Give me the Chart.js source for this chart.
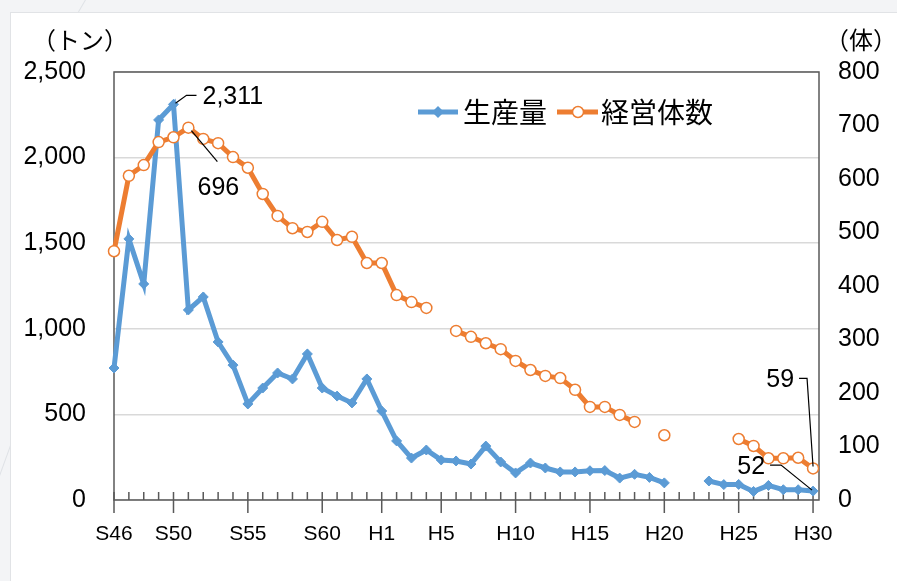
<!DOCTYPE html>
<html>
<head>
<meta charset="utf-8">
<script src="https://cdn.jsdelivr.net/npm/chart.js@4/dist/chart.umd.min.js"></script>
<style>
  html, body { margin: 0; padding: 0; }
  body { width: 897px; height: 581px; background: #f3f4f6; position: relative; overflow: hidden; }
  .panel { position: absolute; left: 10px; top: 12px; right: -2px; bottom: -2px; background: #fff; border: 1px solid #e1e3e6; }
  .streak { position: absolute; width: 1px; background: #dfe2e6; transform-origin: top left; }
  #wrap { position: absolute; left: 0; top: 0; width: 897px; height: 581px; }
</style>
</head>
<body>
<div class="streak" style="left:86px; top:-2px; height:16px; transform: rotate(30deg);"></div>
<div class="streak" style="left:12px; top:440px; height:60px; transform: rotate(20deg);"></div>
<div class="panel"></div>
<div id="wrap"><canvas id="chart"></canvas></div>
<script>
// 年次 (S46〜H30)
const years = ['S46','S47','S48','S49','S50','S51','S52','S53','S54','S55',
  'S56','S57','S58','S59','S60','S61','S62','S63',
  'H1','H2','H3','H4','H5','H6','H7','H8','H9','H10',
  'H11','H12','H13','H14','H15','H16','H17','H18','H19','H20',
  'H21','H22','H23','H24','H25','H26','H27','H28','H29','H30'];

// 目盛ラベルを出す年
const labeledYears = ['S46','S50','S55','S60','H1','H5','H10','H15','H20','H25','H30'];

// 生産量（トン）
const production = [771,1525,1262,2220,2311,1110,1186,923,788,561,
  654,742,707,853,654,607,567,707,
  520,345,245,292,234,228,210,315,222,158,
  216,187,164,164,171,172,128,150,132,100,
  null,null,111,90,91,50,85,60,60,52];

// 経営体数（体）
const farms = [465,606,626,669,678,696,675,667,641,621,
  572,531,508,501,520,486,492,443,
  443,383,370,359,null,316,305,293,282,260,
  243,232,228,206,174,174,159,146,null,121,
  null,null,null,null,114,101,78,78,79,59];

const leftTicks = [0,500,1000,1500,2000,2500];
const rightTicks = [0,100,200,300,400,500,600,700,800];

const BLUE = '#5b9bd5';
const ORANGE = '#ed7d31';
const AXIS = '#595959';
const LATIN = '"Liberation Sans", Arial, sans-serif';
const CJK = '"Noto Sans CJK JP", "Noto Sans", sans-serif';

const idx = y => years.indexOf(y);
const fmt = v => v.toLocaleString('en-US');

const decor = {
  id: 'decor',
  beforeDatasetsDraw(chart) {
    const {ctx, chartArea: a, scales: {x}} = chart;
    ctx.save();
    ctx.strokeStyle = AXIS;
    ctx.lineWidth = 1.5;
    ctx.strokeRect(a.left, a.top, a.right - a.left, a.bottom - a.top);
    ctx.beginPath();
    years.forEach((yr, i) => {
      const px = x.getPixelForValue(i);
      ctx.moveTo(px, a.bottom);
      ctx.lineTo(px, a.bottom - 8);
    });
    labeledYears.forEach(yr => {
      const px = x.getPixelForValue(idx(yr));
      ctx.moveTo(px, a.bottom);
      ctx.lineTo(px, a.bottom + 13);
    });
    ctx.stroke();
    ctx.restore();
  },
  afterDatasetsDraw(chart) {
    const {ctx, chartArea: a, scales: {x, y, y2}} = chart;
    ctx.save();

    // 軸タイトル
    ctx.fillStyle = '#000';
    ctx.font = '24px ' + CJK;
    ctx.textBaseline = 'middle';
    ctx.textAlign = 'left';
    ctx.fillText('（トン）', 32, 40);
    ctx.fillText('（体）', 825, 40);

    // 凡例
    const ly = 112;
    ctx.lineWidth = 5;
    ctx.strokeStyle = BLUE;
    ctx.beginPath(); ctx.moveTo(418, ly); ctx.lineTo(458, ly); ctx.stroke();
    ctx.fillStyle = BLUE;
    ctx.beginPath();
    ctx.moveTo(438, ly - 6); ctx.lineTo(444, ly); ctx.lineTo(438, ly + 6); ctx.lineTo(432, ly);
    ctx.closePath(); ctx.fill();
    ctx.strokeStyle = ORANGE;
    ctx.beginPath(); ctx.moveTo(557, ly); ctx.lineTo(598, ly); ctx.stroke();
    ctx.fillStyle = '#fff';
    ctx.lineWidth = 1.5;
    ctx.beginPath(); ctx.arc(578, ly, 5.5, 0, Math.PI * 2); ctx.fill(); ctx.stroke();
    ctx.fillStyle = '#000';
    ctx.font = '28px ' + CJK;
    ctx.fillText('生産量', 463, ly);
    ctx.fillText('経営体数', 601, ly);

    // データラベルと引き出し線
    ctx.strokeStyle = '#000';
    ctx.lineWidth = 1.2;
    ctx.font = '25px ' + LATIN;

    const pk = idx('S50');
    let px = x.getPixelForValue(pk), py = y.getPixelForValue(production[pk]);
    ctx.beginPath();
    ctx.moveTo(px + 2, py - 1); ctx.lineTo(px + 13, py - 9); ctx.lineTo(px + 23, py - 9);
    ctx.stroke();
    ctx.fillText(fmt(production[pk]), px + 29, py - 7);

    const fk = idx('S51');
    px = x.getPixelForValue(fk); py = y2.getPixelForValue(farms[fk]);
    ctx.beginPath();
    ctx.moveTo(px + 3, py + 3); ctx.lineTo(px + 29, py + 34);
    ctx.stroke();
    ctx.textAlign = 'center';
    ctx.fillText(fmt(farms[fk]), px + 30, py + 60);

    const last = years.length - 1;
    px = x.getPixelForValue(last); py = y2.getPixelForValue(farms[last]);
    ctx.beginPath();
    ctx.moveTo(px - 14, py - 90); ctx.lineTo(px - 6, py - 90); ctx.lineTo(px, py - 2);
    ctx.stroke();
    ctx.textAlign = 'right';
    ctx.fillText(fmt(farms[last]), px - 19, py - 88);

    py = y.getPixelForValue(production[last]);
    ctx.beginPath();
    ctx.moveTo(px - 43, py - 26); ctx.lineTo(px - 32, py - 26); ctx.lineTo(px - 1, py - 1);
    ctx.stroke();
    ctx.fillText(fmt(production[last]), px - 48, py - 24);

    ctx.restore();
  }
};

new Chart(document.getElementById('chart'), {
  type: 'line',
  data: {
    datasets: [
      {
        label: '生産量',
        data: production.map((v, i) => ({x: i, y: v})),
        yAxisID: 'y',
        borderColor: BLUE,
        backgroundColor: BLUE,
        borderWidth: 5,
        pointStyle: 'rectRot',
        pointRadius: 5,
        pointBorderWidth: 1,
        spanGaps: false,
        clip: false,
        order: 1
      },
      {
        label: '経営体数',
        data: farms.map((v, i) => ({x: i, y: v})),
        yAxisID: 'y2',
        borderColor: ORANGE,
        backgroundColor: '#fff',
        borderWidth: 5,
        pointStyle: 'circle',
        pointRadius: 5.5,
        pointBorderWidth: 1.5,
        spanGaps: false,
        clip: false,
        order: 0
      }
    ]
  },
  options: {
    responsive: true,
    maintainAspectRatio: false,
    animation: false,
    layout: { padding: { top: 72, left: 0, right: 0, bottom: 0 } },
    plugins: { legend: { display: false }, tooltip: { enabled: false } },
    elements: { line: { tension: 0 } },
    scales: {
      x: {
        type: 'linear',
        min: 0,
        max: 47.4,
        afterBuildTicks: s => { s.ticks = labeledYears.map(l => ({value: idx(l)})); },
        afterFit: s => { s.height = 81; },
        grid: { display: false },
        border: { display: false },
        ticks: {
          autoSkip: false,
          maxRotation: 0,
          padding: 14,
          color: '#000',
          font: { family: LATIN, size: 21 },
          callback: v => years[v]
        }
      },
      y: {
        position: 'left',
        min: 0,
        max: 2500,
        afterBuildTicks: s => { s.ticks = leftTicks.map(v => ({value: v})); },
        afterFit: s => { s.width = 114; },
        grid: { color: '#d9d9d9', lineWidth: 1.5, drawTicks: false },
        border: { display: false },
        ticks: {
          padding: 28,
          color: '#000',
          font: { family: LATIN, size: 25 },
          callback: v => fmt(v)
        }
      },
      y2: {
        position: 'right',
        min: 0,
        max: 800,
        afterBuildTicks: s => { s.ticks = rightTicks.map(v => ({value: v})); },
        afterFit: s => { s.width = 78; },
        grid: { display: false, drawTicks: false },
        border: { display: false },
        ticks: {
          padding: 19,
          color: '#000',
          font: { family: LATIN, size: 25 },
          callback: v => String(v)
        }
      }
    }
  },
  plugins: [decor]
});
</script>
</body>
</html>
